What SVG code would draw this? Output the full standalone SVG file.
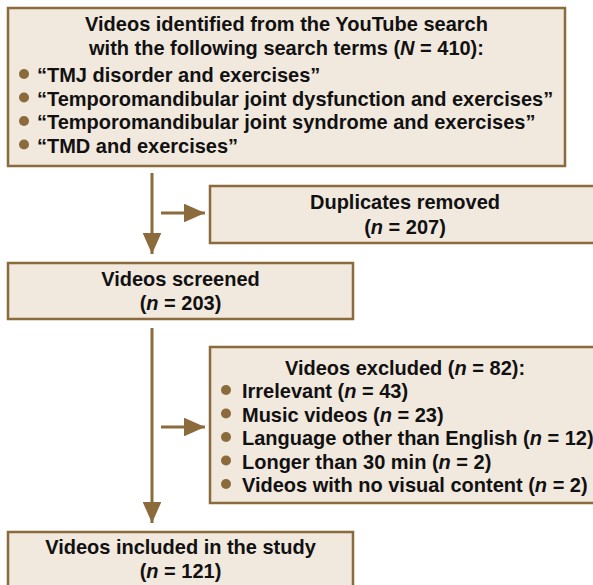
<svg xmlns="http://www.w3.org/2000/svg" width="593" height="585" viewBox="0 0 593 585">
<defs>
<style>
.box{fill:#f1e8de;stroke:#8b6a3c;stroke-width:2.5}
.t{font-family:"Liberation Sans",Arial,Helvetica,sans-serif;font-weight:bold;font-size:21px;fill:#111}
.c{text-anchor:middle}
.i{font-style:italic}
.b{fill:#8b6a3c}
.ln{stroke:#8b6a3c;stroke-width:3;fill:none}
</style>
<marker id="ah" viewBox="0 0 10 10" refX="10" refY="5" markerWidth="7" markerHeight="6.2" markerUnits="strokeWidth" orient="auto" preserveAspectRatio="none">
<path d="M0,0 L10,5 L0,10 Z" fill="#8b6a3c"/>
</marker>
</defs>
<rect width="593" height="585" fill="#fff"/>
<g id="connectors">
<line class="ln" x1="152" y1="173" x2="152" y2="254" marker-end="url(#ah)"/>
<line class="ln" x1="161" y1="213" x2="205" y2="213" marker-end="url(#ah)"/>
<line class="ln" x1="152" y1="328" x2="152" y2="523" marker-end="url(#ah)"/>
<line class="ln" x1="161" y1="427" x2="205" y2="427" marker-end="url(#ah)"/>
</g>
<g id="identified">
<rect class="box" x="8" y="8" width="557" height="158"/>
<text class="t c" transform="translate(286.5,31) scale(0.952,1)">Videos identified from the YouTube search</text>
<text class="t c" transform="translate(286.5,55) scale(0.952,1)">with the following search terms (<tspan class="i">N</tspan> = 410):</text>
<circle class="b" cx="24" cy="74" r="5"/>
<circle class="b" cx="24" cy="97.5" r="5"/>
<circle class="b" cx="24" cy="121" r="5"/>
<circle class="b" cx="24" cy="144.5" r="5"/>
<text class="t" transform="translate(37,82) scale(0.952,1)">“TMJ disorder and exercises”</text>
<text class="t" transform="translate(37,105.5) scale(0.952,1)">“Temporomandibular joint dysfunction and exercises”</text>
<text class="t" transform="translate(37,129) scale(0.952,1)">“Temporomandibular joint syndrome and exercises”</text>
<text class="t" transform="translate(37,152.5) scale(0.952,1)">“TMD and exercises”</text>
</g>
<g id="duplicates">
<rect class="box" x="210" y="186" width="392" height="57"/>
<text class="t c" transform="translate(405,209) scale(0.952,1)">Duplicates removed</text>
<text class="t c" transform="translate(405,234) scale(0.952,1)">(<tspan class="i">n</tspan> = 207)</text>
</g>
<g id="screened">
<rect class="box" x="8" y="263" width="345" height="56"/>
<text class="t c" transform="translate(180.5,286) scale(0.952,1)">Videos screened</text>
<text class="t c" transform="translate(180.5,310) scale(0.952,1)">(<tspan class="i">n</tspan> = 203)</text>
</g>
<g id="excluded">
<rect class="box" x="210" y="347" width="392" height="156"/>
<text class="t c" transform="translate(405,375) scale(0.952,1)">Videos excluded (<tspan class="i">n</tspan> = 82):</text>
<circle class="b" cx="226" cy="390" r="5"/>
<circle class="b" cx="226" cy="413.5" r="5"/>
<circle class="b" cx="226" cy="437" r="5"/>
<circle class="b" cx="226" cy="460.5" r="5"/>
<circle class="b" cx="226" cy="484" r="5"/>
<text class="t" transform="translate(242,398) scale(0.952,1)">Irrelevant (<tspan class="i">n</tspan> = 43)</text>
<text class="t" transform="translate(242,421.5) scale(0.952,1)">Music videos (<tspan class="i">n</tspan> = 23)</text>
<text class="t" transform="translate(242,445) scale(0.952,1)">Language other than English (<tspan class="i">n</tspan> = 12)</text>
<text class="t" transform="translate(242,468.5) scale(0.952,1)">Longer than 30 min (<tspan class="i">n</tspan> = 2)</text>
<text class="t" transform="translate(242,492) scale(0.952,1)">Videos with no visual content (<tspan class="i">n</tspan> = 2)</text>
</g>
<g id="included">
<rect class="box" x="8" y="532" width="345" height="70"/>
<text class="t c" transform="translate(180.5,554) scale(0.952,1)">Videos included in the study</text>
<text class="t c" transform="translate(180.5,578) scale(0.952,1)">(<tspan class="i">n</tspan> = 121)</text>
</g>
</svg>
